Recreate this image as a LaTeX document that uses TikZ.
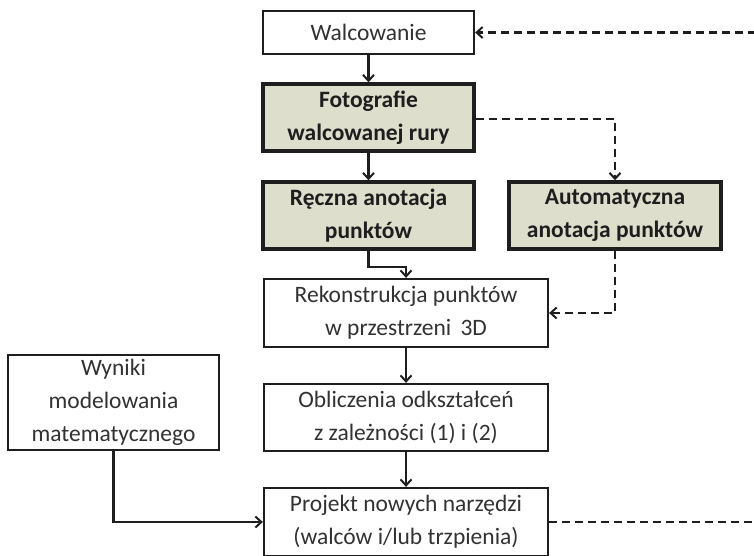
\documentclass[tikz,border=0pt]{standalone}
\usepackage{fontspec}
\setmainfont{Carlito}
\usetikzlibrary{arrows.meta}
\definecolor{boxfill}{RGB}{221,222,204}
\definecolor{ink}{RGB}{30,30,30}
\definecolor{txt}{RGB}{50,50,50}
\tikzset{
  plainbox/.style={draw=ink, line width=2.3pt, fill=white, text=txt, align=center,
    minimum width=211pt, minimum height=67pt, inner sep=0pt,
    font=\fontsize{23.5}{33}\selectfont},
  greenbox/.style={plainbox, line width=3.4pt, fill=boxfill, text=ink,
    font=\fontsize{23.5}{33}\selectfont\bfseries},
  conn/.style={draw=ink, line width=2.2pt, -{Straight Barb[length=6pt,width=11pt,line width=2pt]}},
  dconn/.style={conn, dash pattern=on 8pt off 5pt},
  dline/.style={draw=ink, line width=2.2pt, dash pattern=on 8pt off 5pt}
}
\begin{document}
\begin{tikzpicture}[x=1pt,y=-1pt]
\useasboundingbox (0,0) rectangle (754,555);
\node[plainbox, minimum height=43pt] (walc) at (368.5,32.5) {Walcowanie};
\node[greenbox] (foto) at (368.5,117.5) {Fotografie\\walcowanej rury};
\node[greenbox] (recz) at (368.5,215.5) {Ręczna anotacja\\punktów};
\node[greenbox, minimum width=212pt] (auto) at (615,215.5) {Automatyczna\\anotacja punktów};
\node[plainbox, minimum width=284pt, minimum height=68pt] (rek) at (406,313) {Rekonstrukcja punktów\\w przestrzeni\, 3D};
\node[plainbox, minimum width=284pt] (obl) at (406,417.5) {Obliczenia odkształceń\\z zależności (1) i (2)};
\node[plainbox, minimum width=284pt, minimum height=68pt] (proj) at (406,522) {Projekt nowych narzędzi\\(walców i/lub trzpienia)};
\node[plainbox, minimum height=95pt] (wyn) at (113.5,402.5) {Wyniki\\modelowania\\matematycznego};
\coordinate (topin) at (756,32.5);
\coordinate (botout) at (756,522);
\coordinate (fork) at (615,119);
\coordinate (autodn) at (615,313);

\draw[conn] (walc) -- (foto);
\draw[conn] (foto) -- (recz);
\draw[conn] (recz.south) -- ++(0,16) -| (rek.north);
\draw[conn] (rek) -- (obl);
\draw[conn] (obl) -- (proj);
\draw[conn] (wyn.south) |- (proj.west);
\draw[dconn] (foto.east |- fork) -- (fork) -- (auto.north);
\draw[dconn] (auto.south) -- (autodn) -- (rek.east |- autodn);
\draw[dconn] (topin) -- (walc.east);
\draw[dline] (proj.east) -- (botout);
\end{tikzpicture}
\end{document}
